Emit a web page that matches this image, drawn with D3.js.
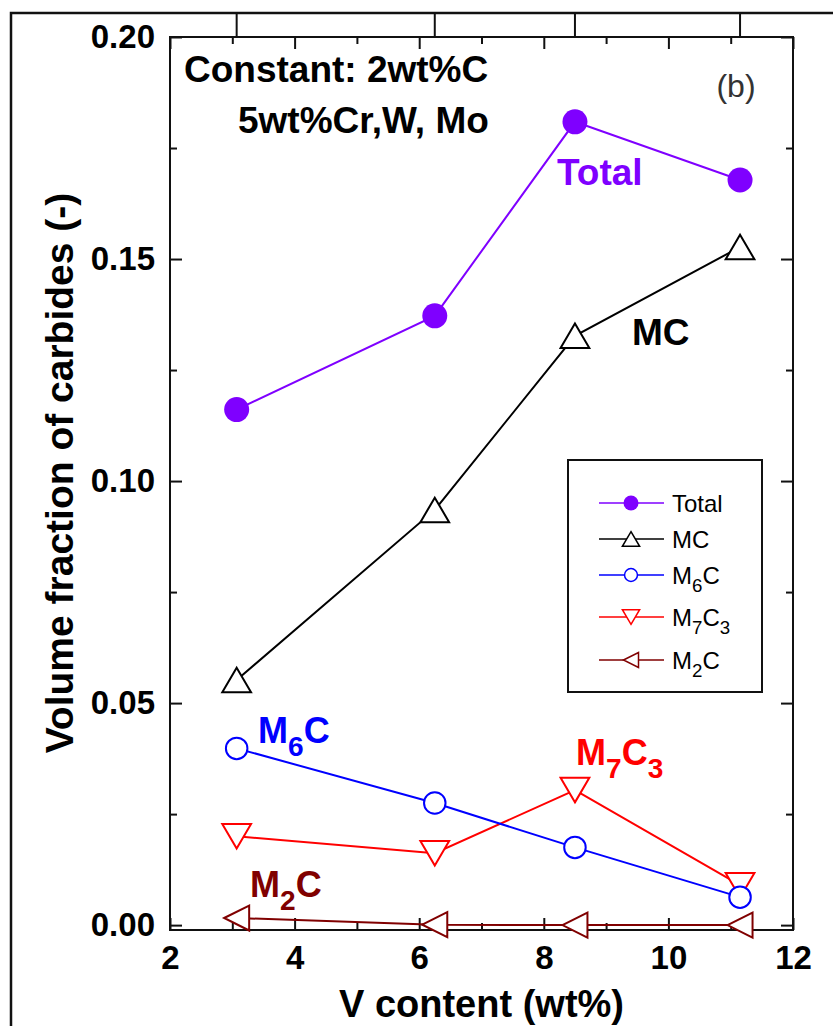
<!DOCTYPE html>
<html>
<head>
<meta charset="utf-8">
<script src="https://cdn.jsdelivr.net/npm/d3@7"></script>
<style>
  html, body { margin: 0; padding: 0; background: #fff; }
  svg { display: block; font-family: "Liberation Sans", Arial, Helvetica, sans-serif; }
</style>
</head>
<body>
<svg id="chart" width="833" height="1026"></svg>
<script>
// V content of the alloys (wt%)
const vContent = [3.07, 6.25, 8.5, 11.15];
// Volume fraction of each carbide type
const totalVals = [0.1161, 0.1372, 0.1809, 0.1678];
const mcVals    = [0.0552, 0.0935, 0.1327, 0.1527];
const m6cVals   = [0.0398, 0.0275, 0.0175, 0.0063];
const m7c3Vals  = [0.0200, 0.0162, 0.0304, 0.0090];
const m2cVals   = [0.0016, 0.0001, 0.0000, 0.0000];

// Axis ticks
const xMajorTicks = [2, 4, 6, 8, 10, 12];
const xMinorTicks = [3, 5, 7, 9, 11];
const yMajorTicks = [0.00, 0.05, 0.10, 0.15, 0.20];
const yMinorTicks = [0.025, 0.075, 0.125, 0.175];

const svg = d3.select("#chart");

const plot = { left: 170, right: 793, top: 37, bottom: 930 };

const x = d3.scaleLinear().domain([2, 12]).range([plot.left, plot.right]);
const y = d3.scaleLinear().domain([-0.0011, 0.2]).range([plot.bottom, plot.top]);

// Outer frame with drop ticks at each alloy composition
const frame = svg.append("g").attr("stroke", "#111").attr("fill", "none");
frame.append("path").attr("d", `M11,1026 V13 H833`).attr("stroke-width", 2.5);
frame.selectAll("line.drop").data(vContent).join("line")
  .attr("class", "drop")
  .attr("x1", d => x(d)).attr("x2", d => x(d))
  .attr("y1", 13).attr("y2", plot.top)
  .attr("stroke-width", 2);

// Axes: ticks point inward on all four sides
function styleAxis(g) {
  g.select(".domain").remove();
  g.selectAll(".tick line").attr("stroke", "#111").attr("stroke-width", 2);
  g.selectAll(".tick text").attr("fill", "#000").attr("font-weight", "bold").attr("font-size", 33);
}
const fmtY = d3.format(".2f");

svg.append("g").attr("transform", `translate(0,${plot.bottom})`)
  .call(d3.axisBottom(x).tickValues(xMajorTicks).tickSize(-12).tickPadding(16).tickFormat(d3.format("d")))
  .call(styleAxis);
svg.append("g").attr("transform", `translate(0,${plot.bottom})`)
  .call(d3.axisBottom(x).tickValues(xMinorTicks).tickSize(-7).tickFormat(""))
  .call(styleAxis);
svg.append("g").attr("transform", `translate(0,${plot.top})`)
  .call(d3.axisTop(x).tickValues(xMajorTicks).tickSize(-12).tickFormat(""))
  .call(styleAxis);
svg.append("g").attr("transform", `translate(0,${plot.top})`)
  .call(d3.axisTop(x).tickValues(xMinorTicks).tickSize(-7).tickFormat(""))
  .call(styleAxis);

svg.append("g").attr("transform", `translate(${plot.left},0)`)
  .call(d3.axisLeft(y).tickValues(yMajorTicks).tickSize(-12).tickPadding(15).tickFormat(fmtY))
  .call(styleAxis);
svg.append("g").attr("transform", `translate(${plot.left},0)`)
  .call(d3.axisLeft(y).tickValues(yMinorTicks).tickSize(-7).tickFormat(""))
  .call(styleAxis);
svg.append("g").attr("transform", `translate(${plot.right},0)`)
  .call(d3.axisRight(y).tickValues(yMajorTicks).tickSize(-12).tickFormat(""))
  .call(styleAxis);
svg.append("g").attr("transform", `translate(${plot.right},0)`)
  .call(d3.axisRight(y).tickValues(yMinorTicks).tickSize(-7).tickFormat(""))
  .call(styleAxis);

// Plot border
svg.append("rect")
  .attr("x", plot.left).attr("y", plot.top)
  .attr("width", plot.right - plot.left).attr("height", plot.bottom - plot.top)
  .attr("fill", "none").attr("stroke", "#111").attr("stroke-width", 2);

// Axis titles
svg.append("text")
  .attr("x", (plot.left + plot.right) / 2).attr("y", 1017)
  .attr("text-anchor", "middle").attr("font-weight", "bold").attr("font-size", 38)
  .text("V content (wt%)");
svg.append("text")
  .attr("transform", `translate(73,${473}) rotate(-90)`)
  .attr("text-anchor", "middle").attr("font-weight", "bold").attr("font-size", 39)
  .text("Volume fraction of carbides (-)");

// Marker shapes
function triPath(dir, w, h) {
  const a = w / 2, b = h / 2;
  if (dir === "up")    return `M0,${-b} L${a},${b} L${-a},${b} Z`;
  if (dir === "down")  return `M0,${b} L${a},${-b} L${-a},${-b} Z`;
  if (dir === "left")  return `M${-b},0 L${b},${-a} L${b},${a} Z`;
  return "";
}

const series = [
  { key: "Total", values: totalVals, color: "#7f00ff", marker: "disc" },
  { key: "MC",    values: mcVals,    color: "#000000", marker: "up" },
  { key: "M6C",   values: m6cVals,   color: "#0000ff", marker: "circle" },
  { key: "M7C3",  values: m7c3Vals,  color: "#ff0000", marker: "down" },
  { key: "M2C",   values: m2cVals,   color: "#800000", marker: "left" }
];

const line = d3.line().x(d => x(d[0])).y(d => y(d[1]));

function drawMarker(g, type, color, size) {
  if (type === "disc") {
    g.append("circle").attr("r", size * 0.5).attr("fill", color);
  } else if (type === "circle") {
    g.append("circle").attr("r", size * 0.43).attr("fill", "#fff").attr("stroke", color).attr("stroke-width", 2);
  } else if (type === "left") {
    g.append("path").attr("d", triPath(type, size * 1.0, size * 1.0))
      .attr("fill", "#fff").attr("stroke", color).attr("stroke-width", 2);
  } else {
    g.append("path").attr("d", triPath(type, size * 1.15, size * 0.98))
      .attr("fill", "#fff").attr("stroke", color).attr("stroke-width", 2);
  }
}

// Draw bottom series first so Total sits on top
[...series].reverse().forEach(s => {
  const pts = vContent.map((v, i) => [v, s.values[i]]);
  const g = svg.append("g");
  g.append("path").attr("d", line(pts)).attr("fill", "none")
    .attr("stroke", s.color).attr("stroke-width", 2);
  pts.forEach(p => {
    const m = g.append("g").attr("transform", `translate(${x(p[0])},${y(p[1])})`);
    drawMarker(m, s.marker, s.color, 25);
  });
});

// Text with subscripts: parts = [[text, isSub], ...]
function richText(sel, parts, fontSize, subShift) {
  let shifted = false;
  parts.forEach(([t, sub]) => {
    const ts = sel.append("tspan").text(t);
    if (sub && !shifted) { ts.attr("dy", subShift).attr("font-size", fontSize * 0.78); shifted = true; }
    else if (!sub && shifted) { ts.attr("dy", -subShift); shifted = false; }
    else if (sub) { ts.attr("font-size", fontSize * 0.78); }
  });
  return sel;
}

// In-plot annotations
const ann = svg.append("g").attr("font-weight", "bold");
ann.append("text").attr("x", 184).attr("y", 82).attr("font-size", 37).text("Constant: 2wt%C");
ann.append("text").attr("x", 238).attr("y", 133).attr("font-size", 37).text("5wt%Cr,W, Mo");
ann.append("text").attr("x", 557).attr("y", 185).attr("font-size", 37).attr("fill", "#7f00ff").text("Total");
ann.append("text").attr("x", 632).attr("y", 345).attr("font-size", 37).attr("fill", "#000").text("MC");
richText(ann.append("text").attr("x", 258).attr("y", 743).attr("font-size", 36).attr("fill", "#0000ff"),
  [["M", false], ["6", true], ["C", false]], 36, 13);
richText(ann.append("text").attr("x", 576).attr("y", 765).attr("font-size", 36).attr("fill", "#ff0000"),
  [["M", false], ["7", true], ["C", false], ["3", true]], 36, 13);
richText(ann.append("text").attr("x", 250).attr("y", 897).attr("font-size", 36).attr("fill", "#800000"),
  [["M", false], ["2", true], ["C", false]], 36, 13);

svg.append("text").attr("x", 736).attr("y", 97).attr("text-anchor", "middle")
  .attr("font-size", 32).attr("fill", "#333").text("(b)");

// Legend
const legend = svg.append("g");
legend.append("rect").attr("x", 568).attr("y", 460).attr("width", 194).attr("height", 232)
  .attr("fill", "#fff").attr("stroke", "#111").attr("stroke-width", 2);
const legendLabels = [
  [["Total", false]],
  [["MC", false]],
  [["M", false], ["6", true], ["C", false]],
  [["M", false], ["7", true], ["C", false], ["3", true]],
  [["M", false], ["2", true], ["C", false]]
];
const legendRowY = [503, 539, 575, 617, 660];
series.forEach((s, i) => {
  const gy = legendRowY[i];
  const g = legend.append("g").attr("transform", `translate(0,${gy})`);
  g.append("line").attr("x1", 599).attr("x2", 664).attr("y1", 0).attr("y2", 0)
    .attr("stroke", s.color).attr("stroke-width", 1.6);
  const m = g.append("g").attr("transform", "translate(631,0)");
  drawMarker(m, s.marker, s.color, 15);
  m.selectAll("path,circle").attr("stroke-width", 1.5);
  richText(g.append("text").attr("x", 672).attr("y", 9).attr("font-size", 24), legendLabels[i], 24, 8);
});
</script>
</body>
</html>
